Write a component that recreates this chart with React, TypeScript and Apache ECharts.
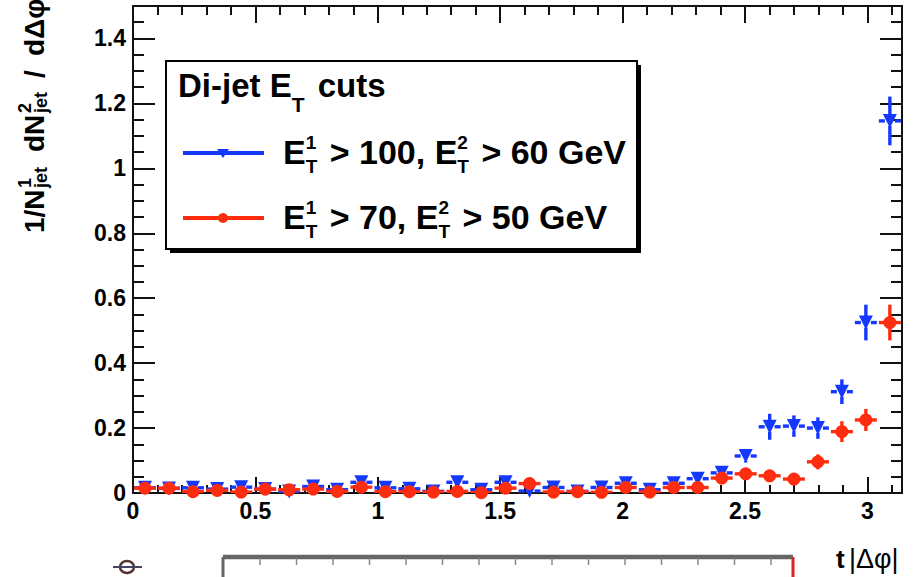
import React, { useEffect, useRef } from "react";
import * as echarts from "echarts";

// ---- data ----
const binCenters = [
  0.049, 0.147, 0.245, 0.344, 0.442, 0.540, 0.638, 0.736, 0.834, 0.933,
  1.031, 1.129, 1.227, 1.325, 1.423, 1.522, 1.620, 1.718, 1.816, 1.914,
  2.013, 2.111, 2.209, 2.307, 2.405, 2.503, 2.601, 2.700, 2.798, 2.896,
  2.994, 3.092,
];
const binHalfWidth = 0.049;

const blueValues = [
  0.016, 0.014, 0.016, 0.012, 0.018, 0.012, 0.005, 0.020, 0.010, 0.033,
  0.016, 0.013, 0.005, 0.033, 0.010, 0.033, 0.006, 0.017, 0.005, 0.017,
  0.030, 0.010, 0.030, 0.044, 0.062, 0.114, 0.204, 0.206, 0.200, 0.312,
  0.525, 1.146,
];
const blueErrors = [
  0.010, 0.010, 0.010, 0.010, 0.010, 0.010, 0.010, 0.010, 0.010, 0.012,
  0.010, 0.010, 0.010, 0.012, 0.010, 0.012, 0.010, 0.010, 0.010, 0.010,
  0.012, 0.010, 0.012, 0.014, 0.016, 0.020, 0.040, 0.033, 0.033, 0.038,
  0.055, 0.075,
];
const redValues = [
  0.015, 0.015, 0.004, 0.008, 0.003, 0.012, 0.010, 0.012, 0.005, 0.018,
  0.004, 0.004, 0.003, 0.005, 0.001, 0.015, 0.029, 0.003, 0.004, 0.002,
  0.017, 0.003, 0.017, 0.017, 0.046, 0.059, 0.053, 0.043, 0.096, 0.189,
  0.225, 0.525,
];
const redErrors = [
  0.008, 0.008, 0.008, 0.008, 0.008, 0.008, 0.008, 0.008, 0.008, 0.008,
  0.008, 0.008, 0.008, 0.008, 0.008, 0.008, 0.010, 0.008, 0.008, 0.008,
  0.008, 0.008, 0.008, 0.008, 0.010, 0.012, 0.012, 0.012, 0.023, 0.032,
  0.034, 0.055,
];

const seriesNames = ["E1T > 100, E2T > 60 GeV", "E1T > 70, E2T > 50 GeV"];
const xTickValues = [0, 0.5, 1, 1.5, 2, 2.5, 3];
const yTickValues = [0, 0.2, 0.4, 0.6, 0.8, 1, 1.2, 1.4];

const BLUE = "#1538ff";
const RED = "#ff2d10";
const INK = "#111";
const FONT = '"Liberation Sans", Arial, Helvetica, sans-serif';

function txt(x: number, y: number, t: string, s: number, w: string = "bold", fill: string = "#000") {
  return {
    type: "text",
    x,
    y,
    silent: true,
    style: {
      text: t,
      fontSize: s,
      fontWeight: w,
      fontFamily: FONT,
      fill,
      align: "left",
      verticalAlign: "middle",
    },
  };
}

let measureCtx: CanvasRenderingContext2D | null = null;
function measure(t: string, s: number, w: string = "bold") {
  if (!measureCtx) measureCtx = document.createElement("canvas").getContext("2d");
  if (!measureCtx) return t.length * s * 0.55;
  measureCtx.font = `${w} ${s}px "Liberation Sans"`;
  return measureCtx.measureText(t).width;
}

type Piece =
  | { t: string; s: number; dy?: number; gap?: number }
  | { sup: string; sub: string; s: number; supDy: number; subDy: number; gap?: number };

function flow(x0: number, y0: number, pieces: Piece[]) {
  const out: any[] = [];
  let x = x0;
  for (const p of pieces) {
    if ("sup" in p) {
      out.push(txt(x, y0 + p.supDy, p.sup, p.s));
      out.push(txt(x, y0 + p.subDy, p.sub, p.s));
      x += Math.max(measure(p.sup, p.s), measure(p.sub, p.s)) + (p.gap ?? 0);
    } else {
      out.push(txt(x, y0 + (p.dy ?? 0), p.t, p.s));
      x += measure(p.t, p.s) + (p.gap ?? 0);
    }
  }
  return out;
}

function errorBarSeries(values: number[], errors: number[], color: string, name: string) {
  return {
    type: "custom",
    name,
    xAxisIndex: 0,
    yAxisIndex: 0,
    clip: true,
    silent: true,
    data: binCenters.map((x, i) => [x, values[i], errors[i]]),
    renderItem: (params: any, api: any) => {
      const x = api.value(0);
      const y = api.value(1);
      const e = api.value(2);
      const c = api.coord([x, y]);
      const l = api.coord([x - binHalfWidth, y]);
      const r = api.coord([x + binHalfWidth, y]);
      const t = api.coord([x, y + e]);
      const b = api.coord([x, y - e]);
      const gap = 5;
      const style = { stroke: color, lineWidth: 3.4 };
      const children: any[] = [
        { type: "line", shape: { x1: l[0] + 1, y1: c[1], x2: c[0] - gap, y2: c[1] }, style },
        { type: "line", shape: { x1: c[0] + gap, y1: c[1], x2: r[0] - 1, y2: c[1] }, style },
      ];
      if (c[1] - t[1] > gap) {
        children.push({ type: "line", shape: { x1: c[0], y1: t[1], x2: c[0], y2: c[1] - gap }, style });
      }
      if (b[1] - c[1] > gap) {
        children.push({ type: "line", shape: { x1: c[0], y1: c[1] + gap, x2: c[0], y2: b[1] }, style });
      }
      return { type: "group", children };
    },
    z: 3,
  };
}

function markerSeries(values: number[], color: string, name: string, symbol: string, rotate: number, size: number) {
  return {
    type: "scatter",
    name,
    xAxisIndex: 0,
    yAxisIndex: 0,
    symbol,
    symbolRotate: rotate,
    symbolSize: size,
    itemStyle: { color, opacity: 1 },
    data: binCenters.map((x, i) => [x, values[i]]),
    silent: true,
    z: 4,
  };
}

const isMultiple = (v: number, step: number) => Math.abs(v / step - Math.round(v / step)) < 1e-6;

function xAxisDef(position: string, interval: number, tickLen: number, labels: boolean, line: boolean) {
  return {
    type: "value",
    position,
    min: 0,
    max: Math.PI,
    interval,
    axisLine: { show: line, onZero: false, lineStyle: { color: INK, width: 2 } },
    axisTick: { show: true, inside: true, length: tickLen, lineStyle: { color: INK, width: 2 } },
    axisLabel: labels
      ? {
          show: true,
          margin: 6,
          fontSize: 23,
          fontWeight: "bold",
          fontFamily: FONT,
          color: "#000",
          showMaxLabel: true,
          formatter: (v: number) =>
            xTickValues.some((t) => Math.abs(t - v) < 1e-6) ? String(+v.toFixed(1)) : "",
        }
      : { show: false },
    splitLine: { show: false },
  };
}

function yAxisDef(position: string, interval: number, tickLen: number, labels: boolean, line: boolean) {
  return {
    type: "value",
    position,
    min: 0,
    max: 1.5,
    interval,
    axisLine: { show: line, onZero: false, lineStyle: { color: INK, width: 2 } },
    axisTick: { show: true, inside: true, length: tickLen, lineStyle: { color: INK, width: 2 } },
    axisLabel: labels
      ? {
          show: true,
          margin: 7,
          fontSize: 23,
          fontWeight: "bold",
          fontFamily: FONT,
          color: "#000",
          formatter: (v: number) =>
            yTickValues.some((t) => Math.abs(t - v) < 1e-6) && isMultiple(v, 0.2) ? String(+v.toFixed(1)) : "",
        }
      : { show: false },
    splitLine: { show: false },
  };
}

export default function App() {
  const ref = useRef<HTMLDivElement>(null);

  useEffect(() => {
    if (!ref.current) return;
    const chart = echarts.init(ref.current, undefined, { renderer: "svg" });

    // y-axis title (rotated, with stacked super/subscripts)
    const yTitle = {
      type: "group",
      x: 34.5,
      y: 233,
      rotation: Math.PI / 2,
      silent: true,
      children: [
        txt(0, 0, "1/N", 28),
        txt(45, -10, "1", 18),
        txt(45, 6, "jet", 18),
        txt(81, 0, "dN", 28),
        txt(120, -10, "2", 18),
        txt(120, 6, "jet", 18),
        txt(155, 0, "/", 28),
        txt(177, 0, "dΔφ", 28),
      ],
    };

    const entryFont = 34;
    const smallFont = 19;
    const entry = (y: number, a: string, b: string) =>
      flow(283, y, [
        { t: "E", s: entryFont },
        { sup: "1", sub: "T", s: smallFont, supDy: -10, subDy: 14, gap: 3 },
        { t: ` > ${a}, E`, s: entryFont },
        { sup: "2", sub: "T", s: smallFont, supDy: -10, subDy: 14, gap: 3 },
        { t: ` > ${b} GeV`, s: entryFont },
      ]);

    // legend box
    const legend = {
      type: "group",
      silent: true,
      children: [
        { type: "rect", shape: { x: 170, y: 65, width: 471, height: 188 }, style: { fill: "#000" } },
        { type: "rect", shape: { x: 166, y: 61, width: 471, height: 188 }, style: { fill: "#fff", stroke: "#000", lineWidth: 2 } },
        ...flow(178, 85, [
          { t: "Di-jet E", s: 33 },
          { t: "T", s: 21, dy: 19, gap: 4 },
          { t: " cuts", s: 33 },
        ]),
        // entry 1
        { type: "line", shape: { x1: 183, y1: 153, x2: 264, y2: 153 }, style: { stroke: BLUE, lineWidth: 4 } },
        { type: "polygon", shape: { points: [[217, 149], [229, 149], [223, 158]] }, style: { fill: BLUE } },
        ...entry(152, "100", "60"),
        // entry 2
        { type: "line", shape: { x1: 183, y1: 218, x2: 264, y2: 218 }, style: { stroke: RED, lineWidth: 4 } },
        { type: "circle", shape: { cx: 223, cy: 218, r: 5 }, style: { fill: RED } },
        ...entry(217, "70", "50"),
      ],
    };

    // fragment of a neighbouring pad at the bottom of the picture
    const fragTicks: any[] = [];
    for (let i = 0; i < 16; i++) {
      const x = 260 + i * 36.5;
      if (x > 790) break;
      fragTicks.push({ type: "line", shape: { x1: x, y1: 558, x2: x, y2: 565 }, style: { stroke: "#888", lineWidth: 1.5 } });
    }
    const fragment = {
      type: "group",
      silent: true,
      children: [
        { type: "line", shape: { x1: 223, y1: 557, x2: 793, y2: 557 }, style: { stroke: "#666", lineWidth: 4.5 } },
        { type: "line", shape: { x1: 223, y1: 557, x2: 223, y2: 577 }, style: { stroke: "#666", lineWidth: 3 } },
        { type: "line", shape: { x1: 793, y1: 557, x2: 793, y2: 577 }, style: { stroke: "#d22", lineWidth: 3 } },
        ...fragTicks,
        { type: "ellipse", shape: { cx: 127, cy: 567, rx: 7, ry: 6 }, style: { fill: "none", stroke: "#533", lineWidth: 2.5 } },
        { type: "line", shape: { x1: 113, y1: 567, x2: 142, y2: 567 }, style: { stroke: "#446", lineWidth: 2 } },
        txt(836, 559, "t", 26, "bold"),
        txt(849, 559, "|Δφ|", 27, "normal"),
      ],
    };

    const option: any = {
      animation: false,
      backgroundColor: "#fff",
      grid: { left: 133, right: 18, top: 6, bottom: 84, containLabel: false, show: false },
      xAxis: [
        xAxisDef("bottom", 0.5, 16, true, true),
        xAxisDef("bottom", 0.1, 8, false, false),
        xAxisDef("top", 0.5, 17, false, true),
        xAxisDef("top", 0.1, 9, false, false),
      ],
      yAxis: [
        yAxisDef("left", 0.2, 22, true, true),
        yAxisDef("left", 0.05, 11, false, false),
        yAxisDef("right", 0.2, 22, false, true),
        yAxisDef("right", 0.05, 11, false, false),
      ],
      graphic: [yTitle, legend, fragment],
      series: [
        errorBarSeries(blueValues, blueErrors, BLUE, seriesNames[0]),
        markerSeries(blueValues, BLUE, seriesNames[0], "triangle", 180, 14),
        errorBarSeries(redValues, redErrors, RED, seriesNames[1]),
        markerSeries(redValues, RED, seriesNames[1], "circle", 0, 13),
      ],
    };
    chart.setOption(option);
    return () => chart.dispose();
  }, []);

  return <div ref={ref} style={{ width: 920, height: 577, position: "absolute", left: 0, top: 0 }} />;
}
